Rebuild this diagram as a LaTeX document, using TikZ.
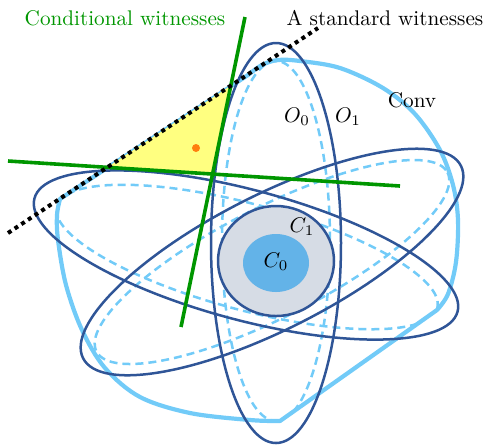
\RequirePackage{fix-cm}
\documentclass[tikz,border=0pt]{standalone}
\definecolor{darkblue}{HTML}{2F5597}
\definecolor{lightblue}{HTML}{72CBF8}
\definecolor{wgreen}{HTML}{009600}
\definecolor{tri}{HTML}{FFFF80}
\definecolor{dotorange}{HTML}{FF7F0E}
\definecolor{cone}{HTML}{D6DCE5}
\definecolor{czero}{HTML}{63B3E8}
\begin{document}
\begin{tikzpicture}[x=0.5pt,y=-0.5pt,
  outer/.style={draw=darkblue,line width=1.25pt},
  inner/.style={draw=lightblue,line width=1.25pt,dash pattern=on 4pt off 2.5pt},
  convstyle/.style={draw=lightblue,line width=2.1pt,line join=round},
  witness/.style={draw=wgreen,line width=1.8pt},
  stdwit/.style={draw=black,line width=2pt,dash pattern=on 2pt off 2pt},
  lbl/.style={inner sep=0pt,font=\fontsize{10.6}{12.7}\selectfont}]
\useasboundingbox (0,0) rectangle (487,447);
% inner (dashed) sets O_0, clipped by the hull
\begin{scope}
\clip (60,199) -- (248,75) -- plot[smooth,tension=0.55] coordinates {(248,75) (262,65) (278,60) (300,61) (340,68) (383,88) (415,114) (440,150) (453,185) (458,220) (456,262) (448,294) (437,310)} -- (280,421) -- plot[smooth,tension=0.55] coordinates {(280,421) (250,420) (190,413) (140,397) (105,368) (82,330) (66,285) (58,240) (57,215) (60,199)} -- cycle;
\draw[inner] (276,241) ellipse [x radius=54, y radius=180];
\draw[inner, rotate around={-15:(247,257)}] (247,257) ellipse [x radius=197, y radius=53];
\draw[inner, rotate around={27:(272,262)}] (272,262) ellipse [x radius=197, y radius=55];
\end{scope}
% convex hull
\draw[convstyle] (60,199) -- (248,75) -- plot[smooth,tension=0.55] coordinates {(248,75) (262,65) (278,60) (300,61) (340,68) (383,88) (415,114) (440,150) (453,185) (458,220) (456,262) (448,294) (437,310)} -- (280,421) -- plot[smooth,tension=0.55] coordinates {(280,421) (250,420) (190,413) (140,397) (105,368) (82,330) (66,285) (58,240) (57,215) (60,199)} -- cycle;
% outer sets O_1
\draw[outer] (276,243) ellipse [x radius=65, y radius=200];
\draw[outer, rotate around={-15:(246,255)}] (246,255) ellipse [x radius=219, y radius=65];
\draw[outer, rotate around={27:(272,262)}] (272,262) ellipse [x radius=212, y radius=67];
% C_1 and C_0
\draw[outer, fill=cone] (276,261) ellipse [x radius=58, y radius=55];
\fill[czero] (276,263) ellipse [x radius=33, y radius=29];
% witnesses
\coordinate (s1) at (245,17);
\coordinate (s2) at (181,327);
\coordinate (h1) at (8,161);
\coordinate (h2) at (400,186);
\coordinate (d1) at (8,233);
\coordinate (d2) at (318,28);
\fill[tri] (intersection of s1--s2 and d1--d2) -- (intersection of s1--s2 and h1--h2) -- (intersection of h1--h2 and d1--d2) -- cycle;
\draw[witness] (s1) -- (s2);
\draw[witness] (h1) -- (h2);
\draw[stdwit] (d1) -- (d2);
\fill[dotorange] (196,148) circle [radius=4];
% labels
\node[lbl, text=wgreen] (tcond) at (125,18) {Conditional witnesses};
\node[lbl] (tstd) at (385,18) {A standard witnesses};
\node[lbl] (to0) at (297,117) {$O_0$};
\node[lbl] (to1) at (348,117) {$O_1$};
\node[lbl] (tconv) at (412,100) {Conv};
\node[lbl] (tc1) at (302,227) {$C_1$};
\node[lbl] (tc0) at (276,262) {$C_0$};
\end{tikzpicture}
\end{document}
